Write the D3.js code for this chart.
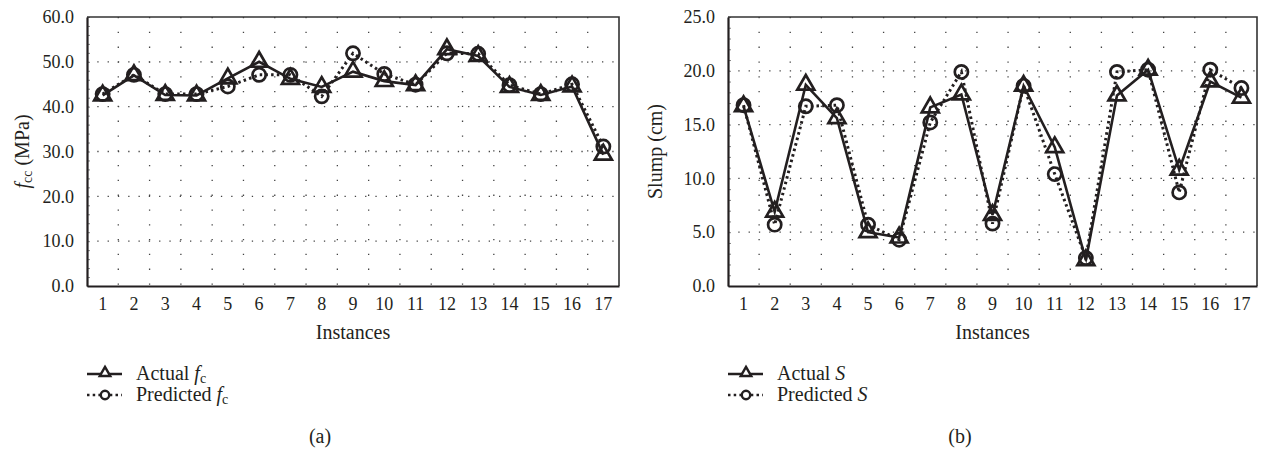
<!DOCTYPE html>
<html>
<head>
<meta charset="utf-8">
<script src="https://cdn.jsdelivr.net/npm/d3@7/dist/d3.min.js"></script>
<style>
  body { margin: 0; background: #fff; }
  svg { display: block; }
</style>
</head>
<body>
<svg id="chart" width="1262" height="455" font-family="'Liberation Serif', 'DejaVu Serif', 'Times New Roman', serif"></svg>
<script>
const instances = [1, 2, 3, 4, 5, 6, 7, 8, 9, 10, 11, 12, 13, 14, 15, 16, 17];

// panel (a): compressive strength
const actualFc = [42.5, 47.0, 42.6, 42.5, 46.3, 50.0, 46.2, 44.4, 47.8, 45.7, 44.8, 52.8, 51.3, 44.4, 42.6, 44.5, 29.3];
const predictedFc = [42.8, 47.1, 42.8, 42.8, 44.5, 47.1, 47.1, 42.3, 51.9, 47.3, 44.9, 51.9, 51.8, 44.8, 42.8, 45.0, 31.1];
const fcTicks = [0, 10, 20, 30, 40, 50, 60];

// panel (b): slump
const actualS = [16.7, 6.9, 18.7, 15.6, 5.0, 4.5, 16.6, 17.8, 6.6, 18.6, 12.9, 2.4, 17.7, 20.1, 10.8, 19.0, 17.5];
const predictedS = [16.8, 5.7, 16.7, 16.8, 5.7, 4.3, 15.2, 19.9, 5.8, 18.6, 10.4, 2.6, 19.9, 20.1, 8.7, 20.1, 18.4];
const slumpTicks = [0, 5, 10, 15, 20, 25];

const svg = d3.select('#chart');
const ink = '#231f20';
const serif = "'Liberation Serif', 'DejaVu Serif', 'Times New Roman', serif";

const triangle = d3.symbol().type(d3.symbolTriangle);

const addLabel = (sel, parts) => {
  // parts: [text, style]  'i' = italic, 's' = subscript
  let shifted = false;
  parts.forEach(([t, s]) => {
    const ts = sel.append('tspan').text(t);
    if (s === 'i') ts.attr('font-style', 'italic');
    if (s === 's') {
      ts.attr('font-size', '0.7em').attr('dy', 3);
      shifted = true;
    } else if (shifted) {
      ts.attr('dy', -3);
      shifted = false;
    }
  });
};

const drawPanel = opts => {
  const { left, right, top, bottom, ticks, actual, predicted, yLabel, yLabelX, legendX, symbolName, caption, captionX } = opts;
  const g = svg.append('g');

  const x = d3.scaleBand().domain(instances).range([left, right]);
  const y = d3.scaleLinear().domain([ticks[0], ticks[ticks.length - 1]]).range([bottom, top]);
  const cx = d => x(d) + x.bandwidth() / 2;

  // dotted grid
  g.append('g')
    .selectAll('line')
    .data(instances.slice(1))
    .join('line')
    .attr('x1', d => x(d))
    .attr('x2', d => x(d))
    .attr('y1', top)
    .attr('y2', bottom)
    .attr('stroke', '#444')
    .attr('stroke-width', 1.3)
    .attr('stroke-dasharray', '1.3,13.5');

  g.append('g')
    .selectAll('line')
    .data(ticks.slice(1, -1))
    .join('line')
    .attr('x1', left)
    .attr('x2', right)
    .attr('y1', d => y(d))
    .attr('y2', d => y(d))
    .attr('stroke', '#444')
    .attr('stroke-width', 1.3)
    .attr('stroke-dasharray', '1.3,9');

  // minor ticks along the left edge
  g.append('g')
    .attr('transform', `translate(${left},0)`)
    .call(d3.axisRight(y).ticks(30).tickSize(3).tickFormat(''))
    .call(a => a.select('.domain').remove())
    .call(a => a.selectAll('line').attr('stroke', '#666').attr('stroke-width', 0.8));

  // top and right frame
  g.append('path')
    .attr('d', `M${left},${top}H${right}V${bottom}`)
    .attr('fill', 'none')
    .attr('stroke', '#333')
    .attr('stroke-width', 1.6);

  // axes
  const yAxis = g.append('g')
    .attr('transform', `translate(${left},0)`)
    .call(d3.axisLeft(y).tickValues(ticks).tickFormat(d3.format('.1f')).tickSize(0).tickPadding(13));
  const xAxis = g.append('g')
    .attr('transform', `translate(0,${bottom})`)
    .call(d3.axisBottom(x).tickSize(0).tickPadding(11));
  [yAxis, xAxis].forEach(a => {
    a.attr('font-family', serif).attr('font-size', 18);
    a.select('.domain').attr('stroke', ink).attr('stroke-width', 2.2);
    a.selectAll('text').attr('fill', ink);
  });

  // axis titles
  g.append('text')
    .attr('x', (left + right) / 2)
    .attr('y', 339)
    .attr('text-anchor', 'middle')
    .attr('font-size', 20)
    .attr('fill', ink)
    .text('Instances');

  const yt = g.append('text')
    .attr('transform', `translate(${yLabelX},${(top + bottom) / 2}) rotate(-90)`)
    .attr('text-anchor', 'middle')
    .attr('font-size', 20)
    .attr('fill', ink);
  addLabel(yt, yLabel);

  // series
  const line = d3.line().x((d, i) => cx(instances[i])).y(d => y(d));

  g.append('path')
    .datum(predicted)
    .attr('d', line)
    .attr('fill', 'none')
    .attr('stroke', ink)
    .attr('stroke-width', 3)
    .attr('stroke-dasharray', '2.5,3.2');

  g.append('path')
    .datum(actual)
    .attr('d', line)
    .attr('fill', 'none')
    .attr('stroke', ink)
    .attr('stroke-width', 2.6);

  g.append('g')
    .selectAll('circle')
    .data(predicted)
    .join('circle')
    .attr('cx', (d, i) => cx(instances[i]))
    .attr('cy', d => y(d))
    .attr('r', 6.6)
    .attr('fill', 'none')
    .attr('stroke', ink)
    .attr('stroke-width', 2.7);

  g.append('g')
    .selectAll('path')
    .data(actual)
    .join('path')
    .attr('d', triangle.size(125))
    .attr('transform', (d, i) => `translate(${cx(instances[i])},${y(d)})`)
    .attr('fill', 'none')
    .attr('stroke', ink)
    .attr('stroke-width', 2.7);

  // legend
  const legend = g.append('g').attr('transform', `translate(${legendX},0)`);
  const rows = [
    { y: 374, name: 'Actual ', dash: null, mark: 'tri' },
    { y: 395, name: 'Predicted ', dash: '2.5,3.2', mark: 'circ' }
  ];
  rows.forEach(r => {
    legend.append('line')
      .attr('x1', 0)
      .attr('x2', 35)
      .attr('y1', r.y)
      .attr('y2', r.y)
      .attr('stroke', ink)
      .attr('stroke-width', 2.6)
      .attr('stroke-dasharray', r.dash);
    if (r.mark === 'tri') {
      legend.append('path')
        .attr('d', triangle.size(48))
        .attr('transform', `translate(18,${r.y - 1})`)
        .attr('fill', '#fff')
        .attr('stroke', ink)
        .attr('stroke-width', 2.4);
    } else {
      legend.append('circle')
        .attr('cx', 18)
        .attr('cy', r.y)
        .attr('r', 4.2)
        .attr('fill', '#fff')
        .attr('stroke', ink)
        .attr('stroke-width', 2.4);
    }
    const t = legend.append('text')
      .attr('x', 49)
      .attr('y', r.y + 6)
      .attr('font-size', 20)
      .attr('fill', ink);
    addLabel(t, [[r.name, null]].concat(symbolName));
  });

  g.append('text')
    .attr('x', captionX)
    .attr('y', 443)
    .attr('text-anchor', 'middle')
    .attr('font-size', 20)
    .attr('fill', ink)
    .text(caption);
};

drawPanel({
  left: 87, right: 619, top: 17, bottom: 286,
  ticks: fcTicks, actual: actualFc, predicted: predictedFc,
  yLabel: [['f', 'i'], ['cc', 's'], [' (MPa)', null]], yLabelX: 29,
  legendX: 87, symbolName: [['f', 'i'], ['c', 's']],
  caption: '(a)', captionX: 320
});

drawPanel({
  left: 728, right: 1257, top: 17, bottom: 286,
  ticks: slumpTicks, actual: actualS, predicted: predictedS,
  yLabel: [['Slump (cm)', null]], yLabelX: 662,
  legendX: 728, symbolName: [['S', 'i']],
  caption: '(b)', captionX: 960
});
</script>
</body>
</html>
